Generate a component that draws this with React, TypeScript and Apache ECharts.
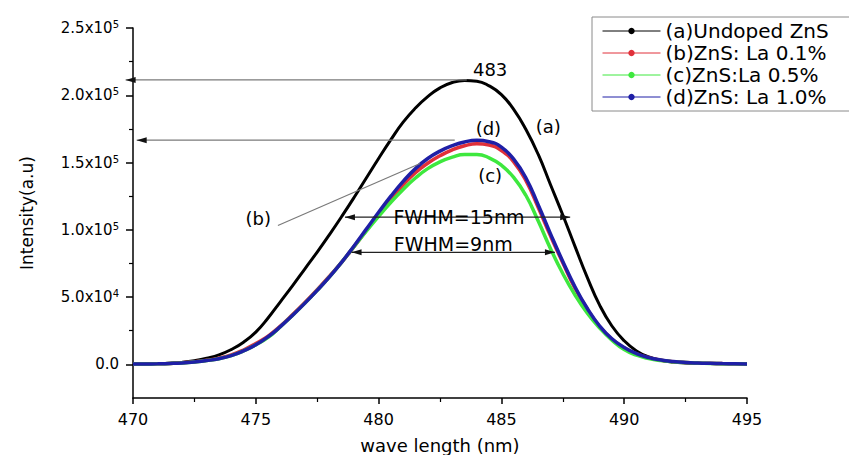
import React, { useEffect, useRef } from "react";
import * as echarts from "echarts";

// wavelength grid (nm)
const wavelengths = [
  470, 470.5, 471, 471.5, 472, 472.5, 473, 473.5, 474, 474.5, 475, 475.5, 476, 476.5, 477, 477.5,
  478, 478.5, 479, 479.5, 480, 480.5, 481, 481.5, 482, 482.5, 483, 483.5, 484, 484.5, 485, 485.5,
  486, 486.5, 487, 487.5, 488, 488.5, 489, 489.5, 490, 490.5, 491, 491.5, 492, 492.5, 493, 493.5,
  494, 494.5, 495,
];

const undoped = [
  300, 400, 550, 850, 1500, 2700, 4500, 7000, 11000, 16500, 24000, 34500, 46500, 58500, 71000, 83500,
  96500, 110000, 124000, 138500, 153000, 167000, 180000, 190500, 199000, 205500, 209500, 211000, 210500, 207000, 200500, 189500,
  174500, 156000, 133500, 111000, 87500, 64500, 44000, 28500, 17500, 10000, 5500, 3000, 1700, 1100, 800, 600,
  500, 400, 350,
];

const la01 = [
  200, 300, 460, 720, 1150, 1900, 3000, 4600, 7000, 10700, 15500, 21000, 28500, 37000, 46000, 55500,
  65500, 76000, 87500, 99500, 111500, 123000, 133500, 142500, 149500, 155000, 159500, 162500, 164000, 163000, 159000, 150500,
  136500, 116500, 95500, 75500, 56500, 41000, 28000, 18700, 12200, 7800, 4900, 3100, 2000, 1400, 1000, 750,
  550, 450, 350,
];

const la05 = [
  200, 300, 450, 700, 1100, 1800, 2800, 4200, 6500, 10000, 14500, 20000, 28000, 36500, 45500, 55000,
  65000, 76000, 87500, 99000, 110000, 120500, 130000, 138500, 145500, 150500, 154000, 156000, 156000, 153500, 148000, 139000,
  125500, 106500, 86000, 67500, 51500, 38000, 27000, 18000, 11000, 6800, 4300, 2800, 1900, 1300, 950, 700,
  500, 400, 300,
];

const la10 = [
  200, 300, 450, 700, 1100, 1800, 2800, 4200, 6500, 10000, 14500, 20500, 28000, 36500, 45500, 55000,
  65000, 76000, 88000, 100500, 113000, 125000, 136000, 145500, 153000, 158500, 162500, 165300, 166500, 165500, 161500, 152500,
  138500, 118500, 97000, 76500, 57500, 41500, 28500, 19000, 12500, 8000, 5000, 3200, 2100, 1400, 1000, 750,
  550, 450, 350,
];

const seriesNames = ["(a)Undoped ZnS", "(b)ZnS: La 0.1%", "(c)ZnS:La 0.5%", "(d)ZnS: La 1.0%"];
const seriesColors = ["#000000", "#e0303a", "#3ee83e", "#1f1fa6"];
const seriesValues = [undoped, la01, la05, la10];

const majorYTicks = [0, 50000, 100000, 150000, 200000, 250000];
const minorYTicks = [25000, 75000, 125000, 175000, 225000];

// annotation arrows: [x1, y1, x2, y2]  (arrow head at x2,y2)
const peakArrows = [
  [483.59, 211400, 469.7, 211400],
  [483.1, 166600, 470.15, 166600],
];
// double-headed FWHM arrows: [x1, y1, x2, y2]
const fwhmArrows = [
  [478.63, 109400, 487.8, 109400],
  [478.9, 83300, 487.18, 83300],
];
// leader line for (b)
const leaderLines = [[475.9, 103200, 481.69, 149300]];

// text annotations
const annotationTexts = ["483", "(a)", "(d)", "(c)", "(b)", "FWHM=15nm", "FWHM=9nm"];
const annotationX = [484.54, 486.91, 484.47, 484.54, 475.1, 483.27, 483.04];
const annotationY = [218900, 176600, 175400, 140500, 108200, 109400, 89600];
const annotationSize = [18, 18, 18, 18, 18, 19, 19];

const FONT = "DejaVu Sans";

function headPoints(tip: number[], from: number[], len: number, half: number) {
  const dx = tip[0] - from[0];
  const dy = tip[1] - from[1];
  const L = Math.hypot(dx, dy) || 1;
  const ux = dx / L;
  const uy = dy / L;
  const bx = tip[0] - ux * len;
  const by = tip[1] - uy * len;
  return [
    [tip[0], tip[1]],
    [bx - uy * half, by + ux * half],
    [bx + uy * half, by - ux * half],
  ];
}

function yLabel(v: number) {
  if (v === 0) return "{b|0.0}";
  if (v % 50000 !== 0) return "";
  const e = Math.floor(Math.log10(v));
  const m = (v / Math.pow(10, e)).toFixed(1);
  return `{b|${m}x10}{s|${e}}`;
}

export default function App() {
  const ref = useRef<HTMLDivElement>(null);
  useEffect(() => {
    if (!ref.current) return;
    const chart = echarts.init(ref.current, undefined, { renderer: "svg" });

    const lineSeries = seriesValues.map((vals, k) => ({
      name: seriesNames[k],
      type: "line",
      data: wavelengths.map((x, i) => [x, vals[i]]),
      smooth: true,
      symbol: "circle",
      symbolSize: 5,
      showSymbol: false,
      lineStyle: { color: seriesColors[k], width: k === 0 ? 3 : 3.5 },
      itemStyle: { color: seriesColors[k] },
      z: 2 + k,
    }));

    const arrowData = [
      ...peakArrows.map((a) => [...a, 0, 0]),
      ...fwhmArrows.map((a) => [...a, 1, 1]),
      ...leaderLines.map((a) => [...a, 2, 2]),
    ];

    const option: any = {
      animation: false,
      backgroundColor: "#ffffff",
      textStyle: { fontFamily: FONT },
      grid: { left: 133, right: 102, top: 28, bottom: 57, containLabel: false, outerBoundsMode: "none" },
      legend: {
        data: seriesNames,
        orient: "vertical",
        left: 592,
        top: 17,
        padding: [4, 40, 4, 10],
        itemGap: 2,
        itemWidth: 58,
        itemHeight: 8,
        borderColor: "#8a8a8a",
        borderWidth: 1,
        backgroundColor: "#ffffff",
        lineStyle: { width: 1 },
        textStyle: { fontFamily: FONT, fontSize: 20, color: "#000" },
      },
      xAxis: {
        type: "value",
        min: 470,
        max: 495,
        interval: 5,
        name: "wave length (nm)",
        nameLocation: "middle",
        nameGap: 38,
        nameTextStyle: { fontFamily: FONT, fontSize: 18, color: "#000" },
        axisLine: { show: true, onZero: false, lineStyle: { color: "#000", width: 1.5 } },
        axisTick: { show: true, length: 6, lineStyle: { color: "#000", width: 1.5 } },
        minorTick: { show: true, splitNumber: 2, length: 4, lineStyle: { color: "#000", width: 1.2 } },
        axisLabel: { fontFamily: FONT, fontSize: 16, color: "#000", margin: 13 },
        splitLine: { show: false },
      },
      yAxis: [
        {
          type: "value",
          min: -25000,
          max: 250000,
          interval: 25000,
          name: "Intensity(a.u)",
          nameLocation: "middle",
          nameGap: 98,
          nameTextStyle: { fontFamily: FONT, fontSize: 17, color: "#000" },
          axisLine: { show: true, onZero: false, lineStyle: { color: "#000", width: 1.5 } },
          axisTick: { show: true, length: 7, customValues: majorYTicks, lineStyle: { color: "#000", width: 1.5 } },
          axisLabel: {
            customValues: majorYTicks,
            margin: 14,
            formatter: yLabel,
            rich: {
              b: { fontFamily: FONT, fontSize: 15, color: "#000", lineHeight: 17 },
              s: { fontFamily: FONT, fontSize: 10, color: "#000", verticalAlign: "top", lineHeight: 17 },
            },
          },
          splitLine: { show: false },
        },
        {
          type: "value",
          min: -25000,
          max: 250000,
          interval: 25000,
          position: "left",
          axisLine: { show: false },
          axisTick: { show: true, length: 4, customValues: minorYTicks, lineStyle: { color: "#000", width: 1.2 } },
          axisLabel: { show: false },
          splitLine: { show: false },
        },
      ],
      series: [
        ...lineSeries,
        {
          type: "custom",
          clip: false,
          z: 10,
          silent: true,
          data: arrowData,
          renderItem: (params: any, api: any) => {
            const p1 = api.coord([api.value(0), api.value(1)]);
            const p2 = api.coord([api.value(2), api.value(3)]);
            const kind = api.value(4);
            const color = kind === 1 ? "#222222" : "#7a7a7a";
            const children: any[] = [
              {
                type: "line",
                shape: { x1: p1[0], y1: p1[1], x2: p2[0], y2: p2[1] },
                style: { stroke: color, lineWidth: 1.2 },
              },
            ];
            if (kind === 0 || kind === 1) {
              children.push({
                type: "polygon",
                shape: { points: headPoints(p2, p1, 10, 3) },
                style: { fill: "#111" },
              });
            }
            if (kind === 1) {
              children.push({
                type: "polygon",
                shape: { points: headPoints(p1, p2, 10, 3) },
                style: { fill: "#111" },
              });
            }
            return { type: "group", children };
          },
        },
        {
          type: "custom",
          clip: false,
          z: 11,
          silent: true,
          data: annotationTexts.map((t, i) => [annotationX[i], annotationY[i], i]),
          renderItem: (params: any, api: any) => {
            const p = api.coord([api.value(0), api.value(1)]);
            const i = params.dataIndex;
            return {
              type: "text",
              x: p[0],
              y: p[1],
              style: {
                text: annotationTexts[i],
                fontFamily: FONT,
                fontSize: annotationSize[i],
                fill: "#000",
                align: "center",
                verticalAlign: "middle",
              },
            };
          },
        },
      ],
    };
    chart.setOption(option);
    return () => chart.dispose();
  }, []);

  return (
    <div
      ref={ref}
      style={{ position: "fixed", left: 0, top: 0, width: 849, height: 455, background: "#fff" }}
    />
  );
}
